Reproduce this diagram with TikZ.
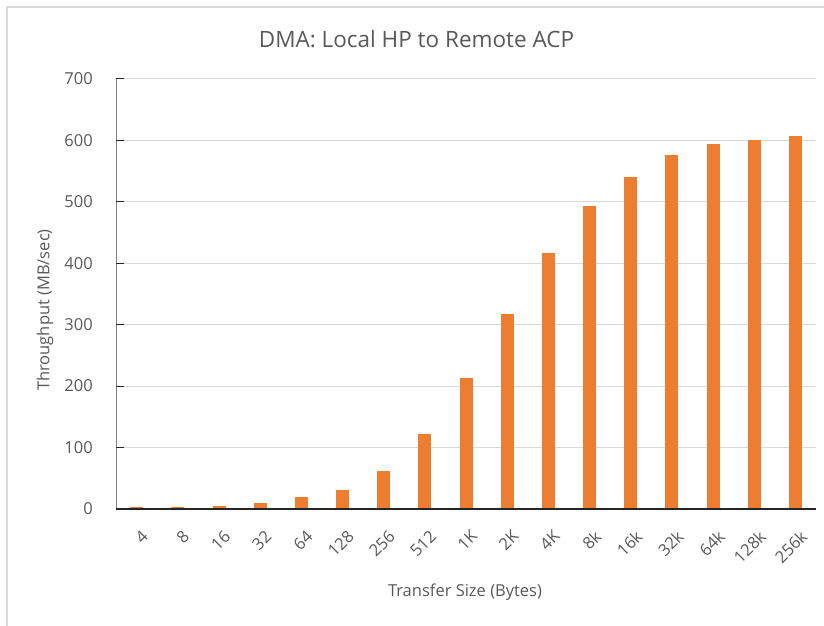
\documentclass[tikz,border=0pt]{standalone}
\usepackage{fontspec}
\setmainfont{Open Sans}
\definecolor{barorange}{HTML}{ED7D31}
\definecolor{txtgray}{HTML}{595959}
\definecolor{gridgray}{HTML}{D9D9D9}
\definecolor{axisdark}{HTML}{262626}
\begin{document}
\begin{tikzpicture}[x=1bp,y=1bp,
  ticklbl/.style={text=txtgray,font=\fontsize{16.5bp}{19bp}\selectfont,inner sep=0pt},
  catlbl/.style={ticklbl,anchor=north east,rotate=45},
  bar/.style={fill=barorange},
  grid line/.style={draw=gridgray,line width=1bp}]
 \useasboundingbox (0,0) rectangle (824,626);
 % chart frame
 \draw[gridgray,line width=1.5bp] (7,0) -- (7,619) -- (824,619);
 \node (title) at (416.5,578.7) [anchor=base,text=txtgray,font=\fontsize{22.5bp}{26bp}\selectfont,inner sep=0pt] {DMA: Local HP to Remote ACP};
 \node (ytitle) at (45,316) [ticklbl,rotate=90] {Throughput (MB/sec)};
 \node (xtitle) at (465,34) [ticklbl] {Transfer Size (Bytes)};
 \begin{scope}[shift={(116,117)},yscale=0.6143]
 \draw[grid line] (0,100) -- (700,100);
 \draw[grid line] (0,200) -- (700,200);
 \draw[grid line] (0,300) -- (700,300);
 \draw[grid line] (0,400) -- (700,400);
 \draw[grid line] (0,500) -- (700,500);
 \draw[grid line] (0,600) -- (700,600);
 \draw[grid line] (0,700) -- (700,700);
 \fill[bar] (14.1,0) rectangle (27.1,2.8);
 \fill[bar] (55.3,0) rectangle (68.3,2.8);
 \fill[bar] (96.5,0) rectangle (109.5,5.5);
 \fill[bar] (137.6,0) rectangle (150.6,10);
 \fill[bar] (178.8,0) rectangle (191.8,20);
 \fill[bar] (220.0,0) rectangle (233.0,30.4);
 \fill[bar] (261.2,0) rectangle (274.2,61.9);
 \fill[bar] (302.3,0) rectangle (315.3,122.6);
 \fill[bar] (343.5,0) rectangle (356.5,213);
 \fill[bar] (384.7,0) rectangle (397.7,317);
 \fill[bar] (425.9,0) rectangle (438.9,416);
 \fill[bar] (467.0,0) rectangle (480.0,494);
 \fill[bar] (508.2,0) rectangle (521.2,540);
 \fill[bar] (549.4,0) rectangle (562.4,577);
 \fill[bar] (590.6,0) rectangle (603.6,594);
 \fill[bar] (631.7,0) rectangle (644.7,601);
 \fill[bar] (672.9,0) rectangle (685.9,607);
 \draw[gray,line width=1bp] (0,0) -- (0,700);
 \draw[axisdark,line width=1bp] (0,100) -- (8,100);
 \draw[axisdark,line width=1bp] (0,200) -- (8,200);
 \draw[axisdark,line width=1bp] (0,300) -- (8,300);
 \draw[axisdark,line width=1bp] (0,400) -- (8,400);
 \draw[axisdark,line width=1bp] (0,500) -- (8,500);
 \draw[axisdark,line width=1bp] (0,600) -- (8,600);
 \draw[axisdark,line width=1bp] (0,700) -- (8,700);
 \draw[axisdark,line width=1.2bp] (0,0) -- (700,0);
 \end{scope}
 % value axis
 \node (y 0) at (93,117) [ticklbl,anchor=east] {0};
 \node (y 1) at (93,178.4) [ticklbl,anchor=east] {100};
 \node (y 2) at (93,239.9) [ticklbl,anchor=east] {200};
 \node (y 3) at (93,301.3) [ticklbl,anchor=east] {300};
 \node (y 4) at (93,362.7) [ticklbl,anchor=east] {400};
 \node (y 5) at (93,424.2) [ticklbl,anchor=east] {500};
 \node (y 6) at (93,485.6) [ticklbl,anchor=east] {600};
 \node (y 7) at (93,547) [ticklbl,anchor=east] {700};
 % categories
 \node (x 1) at (140.6,97) [catlbl] {4};
 \node (x 2) at (181.8,97) [catlbl] {8};
 \node (x 3) at (223.0,97) [catlbl] {16};
 \node (x 4) at (264.1,97) [catlbl] {32};
 \node (x 5) at (305.3,97) [catlbl] {64};
 \node (x 6) at (346.5,97) [catlbl] {128};
 \node (x 7) at (387.7,97) [catlbl] {256};
 \node (x 8) at (428.8,97) [catlbl] {512};
 \node (x 9) at (470.0,97) [catlbl] {1K};
 \node (x 10) at (511.2,97) [catlbl] {2K};
 \node (x 11) at (552.4,97) [catlbl] {4K};
 \node (x 12) at (593.5,97) [catlbl] {8k};
 \node (x 13) at (634.7,97) [catlbl] {16k};
 \node (x 14) at (675.9,97) [catlbl] {32k};
 \node (x 15) at (717.1,97) [catlbl] {64k};
 \node (x 16) at (758.2,97) [catlbl] {128k};
 \node (x 17) at (799.4,97) [catlbl] {256k};
\end{tikzpicture}
\end{document}
